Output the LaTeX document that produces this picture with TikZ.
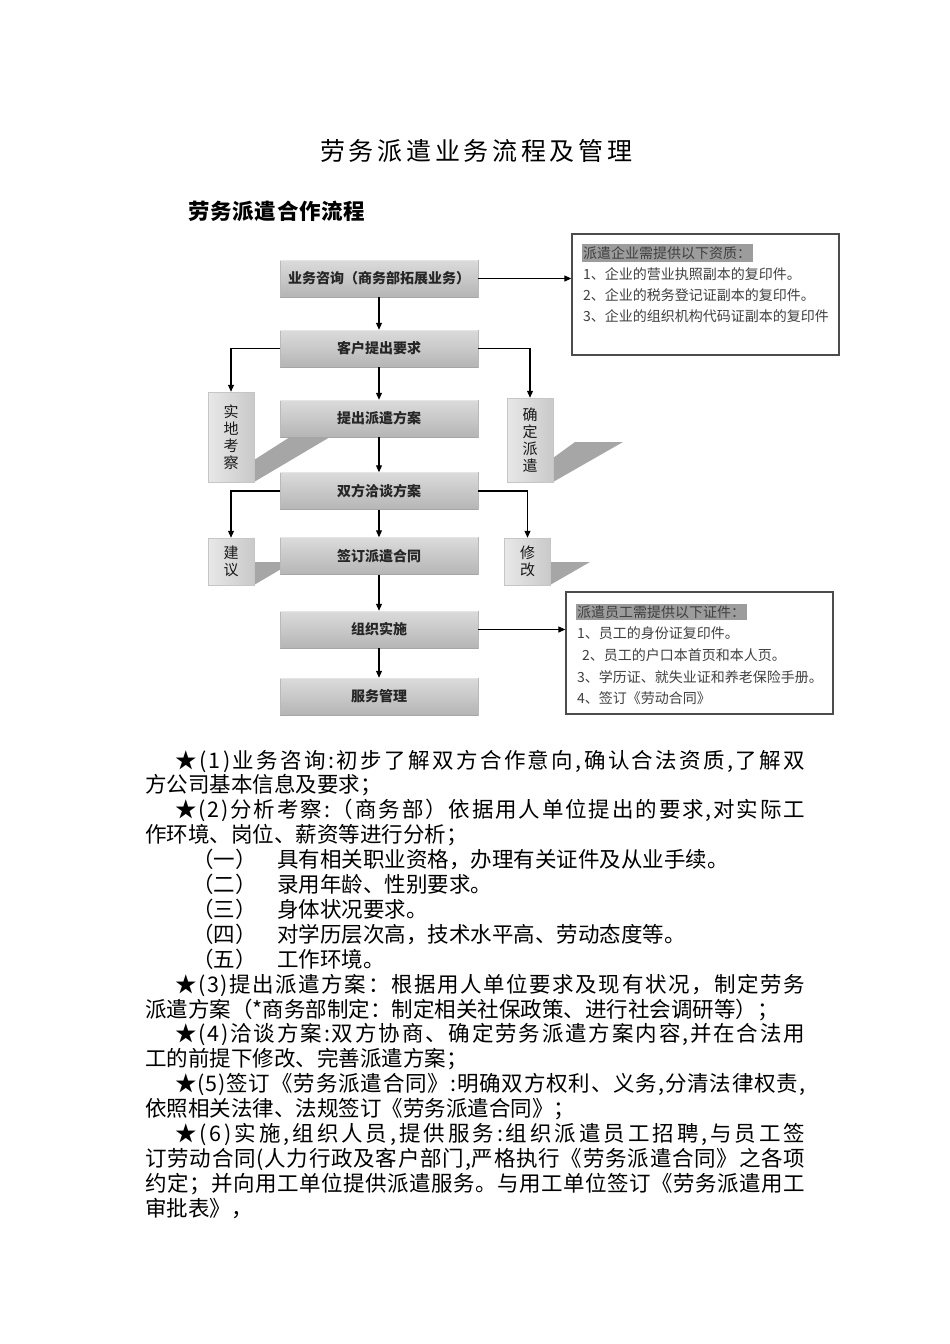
\documentclass[tikz,border=0pt]{standalone}
\usepackage{fontspec}
\setmainfont{Noto Sans CJK SC}
\usetikzlibrary{arrows.meta,calc}
\makeatletter
\def\jl@end{\jl@end}
\def\jl@loop#1{\ifx#1\jl@end\else#1\hskip0pt plus1fil\relax\expandafter\jl@loop\fi}
\newcommand\jline[2]{\hbox to #1{\jl@loop#2\jl@end\unskip}}
\makeatother
\begin{document}
\begin{tikzpicture}[x=1pt,y=-1pt,
  mainbox/.style={minimum width=198pt, minimum height=37pt, inner sep=0pt,
    top color=gray!28, bottom color=gray!58, draw=gray!55, line width=0.5pt,
    font=\fontsize{14}{16}\selectfont\bfseries, text=black!85},
  sidebox/.style={inner sep=0pt, left color=gray!18, right color=gray!42, draw=gray!45,
    line width=0.5pt, align=center, font=\fontsize{15}{17}\selectfont, text=black!90},
  shadowfill/.style={fill=gray!70},
  arr/.style={line width=1.1pt, -{Triangle[length=7pt,width=6pt]}},
  infobox/.style={draw=gray!60!black, line width=1.3pt, fill=white, minimum width=267pt, inner sep=0pt},
  infotxt/.style={anchor=west, inner sep=0pt, font=\fontsize{14}{16}\selectfont, text=black!75},
  hdr/.style={infotxt, fill=gray!78, inner xsep=1.5pt, inner ysep=2pt},
  bodyline/.style={anchor=base west, inner sep=0pt, font=\fontsize{21.5}{24}\selectfont, text=black}]
\useasboundingbox (0,0) rectangle (950,1344);
\fill[white] (0,0) rectangle (950,1344);

% titles
\node[anchor=base west, inner sep=0pt, font=\fontsize{25}{28}\selectfont] (title) at (320,160) {\jline{312pt}{劳务派遣业务流程及管理}};
\node[anchor=base west, inner sep=0pt, font=\fontsize{21.5}{24}\selectfont\bfseries] (subtitle) at (188,219) {\jline{177pt}{劳务派遣合作流程}};

% shadows
\fill[shadowfill] (254,482) -- (254,460) -- (290,437) -- (330,437) -- cycle;
\fill[shadowfill] (553,482) -- (553,458) -- (575,442) -- (623,442) -- cycle;
\fill[shadowfill] (254,585) -- (254,562) -- (293,562) -- cycle;
\fill[shadowfill] (550,585) -- (550,562) -- (590,562) -- cycle;

% side boxes
\node[sidebox, minimum width=46pt, minimum height=90pt] (s1) at (231,437) {实\\地\\考\\察};
\node[sidebox, minimum width=46pt, minimum height=84pt] (s2) at (530,440) {确\\定\\派\\遣};
\node[sidebox, minimum width=46pt, minimum height=47pt] (s3) at (231,561.5) {建\\议};
\node[sidebox, minimum width=46pt, minimum height=47pt] (s4) at (527.5,561.5) {修\\改};

% main boxes
\node[mainbox] (b1) at (379,278.5) {业务咨询（商务部拓展业务）};
\node[mainbox] (b2) at (379,348.5) {客户提出要求};
\node[mainbox] (b3) at (379,418.5) {提出派遣方案};
\node[mainbox] (b4) at (379,491) {双方洽谈方案};
\node[mainbox] (b5) at (379,556) {签订派遣合同};
\node[mainbox] (b6) at (379,629.5) {组织实施};
\node[mainbox] (b7) at (379,696.5) {服务管理};
\foreach \b in {b1,b2,b3,b4,b5,b6,b7}{
  \draw[gray!70, line width=1.4pt] (\b.south west) -- (\b.south east);
  \draw[white!80!gray, line width=0.8pt] ([yshift=-0.6pt]\b.north west) -- ([yshift=-0.6pt]\b.north east);
}

% info boxes
\node[infobox, minimum height=121pt] (i1) at (705.5,294.5) {};
\node[hdr] (i1h) at (581.5,253) {派遣企业需提供以下资质：};
\node[infotxt] (i1a) at (583,274) {1、企业的营业执照副本的复印件。};
\node[infotxt] (i1b) at (583,295) {2、企业的税务登记证副本的复印件。};
\node[infotxt] (i1c) at (583,316) {3、企业的组织机构代码证副本的复印件};

\node[infobox, minimum height=122pt] (i2) at (699.5,653) {};
\node[hdr] (i2h) at (575.5,612) {派遣员工需提供以下证件：};
\node[infotxt] (i2a) at (577,633) {1、员工的身份证复印件。};
\node[infotxt] (i2b) at (582,655) {2、员工的户口本首页和本人页。};
\node[infotxt] (i2c) at (577,677) {3、学历证、就失业证和养老保险手册。};
\node[infotxt] (i2d) at (577,698) {4、签订《劳动合同》};

% connectors
\draw[arr] (b1) -- (b2);
\draw[arr] (b2) -- (b3);
\draw[arr] (b3) -- (b4);
\draw[arr] (b4) -- (b5);
\draw[arr] (b5) -- (b6);
\draw[arr] (b6) -- (b7);
\draw[arr] (b1.east) -- (b1.east -| i1.west);
\draw[arr] (b6.east) -- (b6.east -| i2.west);
\draw[arr] (b2.west) -| (s1.north);
\draw[arr] (b2.east) -| (s2.north);
\draw[arr] (b4.west) -| (s3.north);
\draw[arr] (b4.east) -| (s4.north);

% body text
\node[bodyline] (t1) at (175,768) {\jline{630pt}{★(1)业务咨询:初步了解双方合作意向,确认合法资质,了解双}};
\node[bodyline] (t2) at (145,792.9) {方公司基本信息及要求；};
\node[bodyline] (t3) at (175,817.8) {\jline{630pt}{★(2)分析考察:（商务部）依据用人单位提出的要求,对实际工}};
\node[bodyline] (t4) at (145,842.7) {作环境、岗位、薪资等进行分析；};
\node[bodyline] (t5a) at (192,867.6) {（一）};
\node[bodyline] (t5) at (277,867.6) {具有相关职业资格，办理有关证件及从业手续。};
\node[bodyline] (t6a) at (192,892.5) {（二）};
\node[bodyline] (t6) at (277,892.5) {录用年龄、性别要求。};
\node[bodyline] (t7a) at (192,917.4) {（三）};
\node[bodyline] (t7) at (277,917.4) {身体状况要求。};
\node[bodyline] (t8a) at (192,942.3) {（四）};
\node[bodyline] (t8) at (277,942.3) {对学历层次高，技术水平高、劳动态度等。};
\node[bodyline] (t9a) at (192,967.2) {（五）};
\node[bodyline] (t9) at (277,967.2) {工作环境。};
\node[bodyline] (t10) at (175,992.1) {\jline{630pt}{★(3)提出派遣方案：根据用人单位要求及现有状况，制定劳务}};
\node[bodyline] (t11) at (145,1017) {派遣方案（*商务部制定：制定相关社保政策、进行社会调研等）；};
\node[bodyline] (t12) at (175,1041.9) {\jline{630pt}{★(4)洽谈方案:双方协商、确定劳务派遣方案内容,并在合法用}};
\node[bodyline] (t13) at (145,1066.8) {工的前提下修改、完善派遣方案；};
\node[bodyline] (t14) at (175,1091.7) {\jline{630pt}{★(5)签订《劳务派遣合同》:明确双方权利、义务,分清法律权责,}};
\node[bodyline] (t15) at (145,1116.6) {依照相关法律、法规签订《劳务派遣合同》；};
\node[bodyline] (t16) at (175,1141.5) {\jline{630pt}{★(6)实施,组织人员,提供服务:组织派遣员工招聘,与员工签}};
\node[bodyline] (t17) at (145,1166.4) {\jline{660pt}{订劳动合同(人力行政及客户部门,严格执行《劳务派遣合同》之各项}};
\node[bodyline] (t18) at (145,1191.3) {\jline{660pt}{约定；并向用工单位提供派遣服务。与用工单位签订《劳务派遣用工}};
\node[bodyline] (t19) at (145,1216.2) {审批表》，};
\end{tikzpicture}
\end{document}
